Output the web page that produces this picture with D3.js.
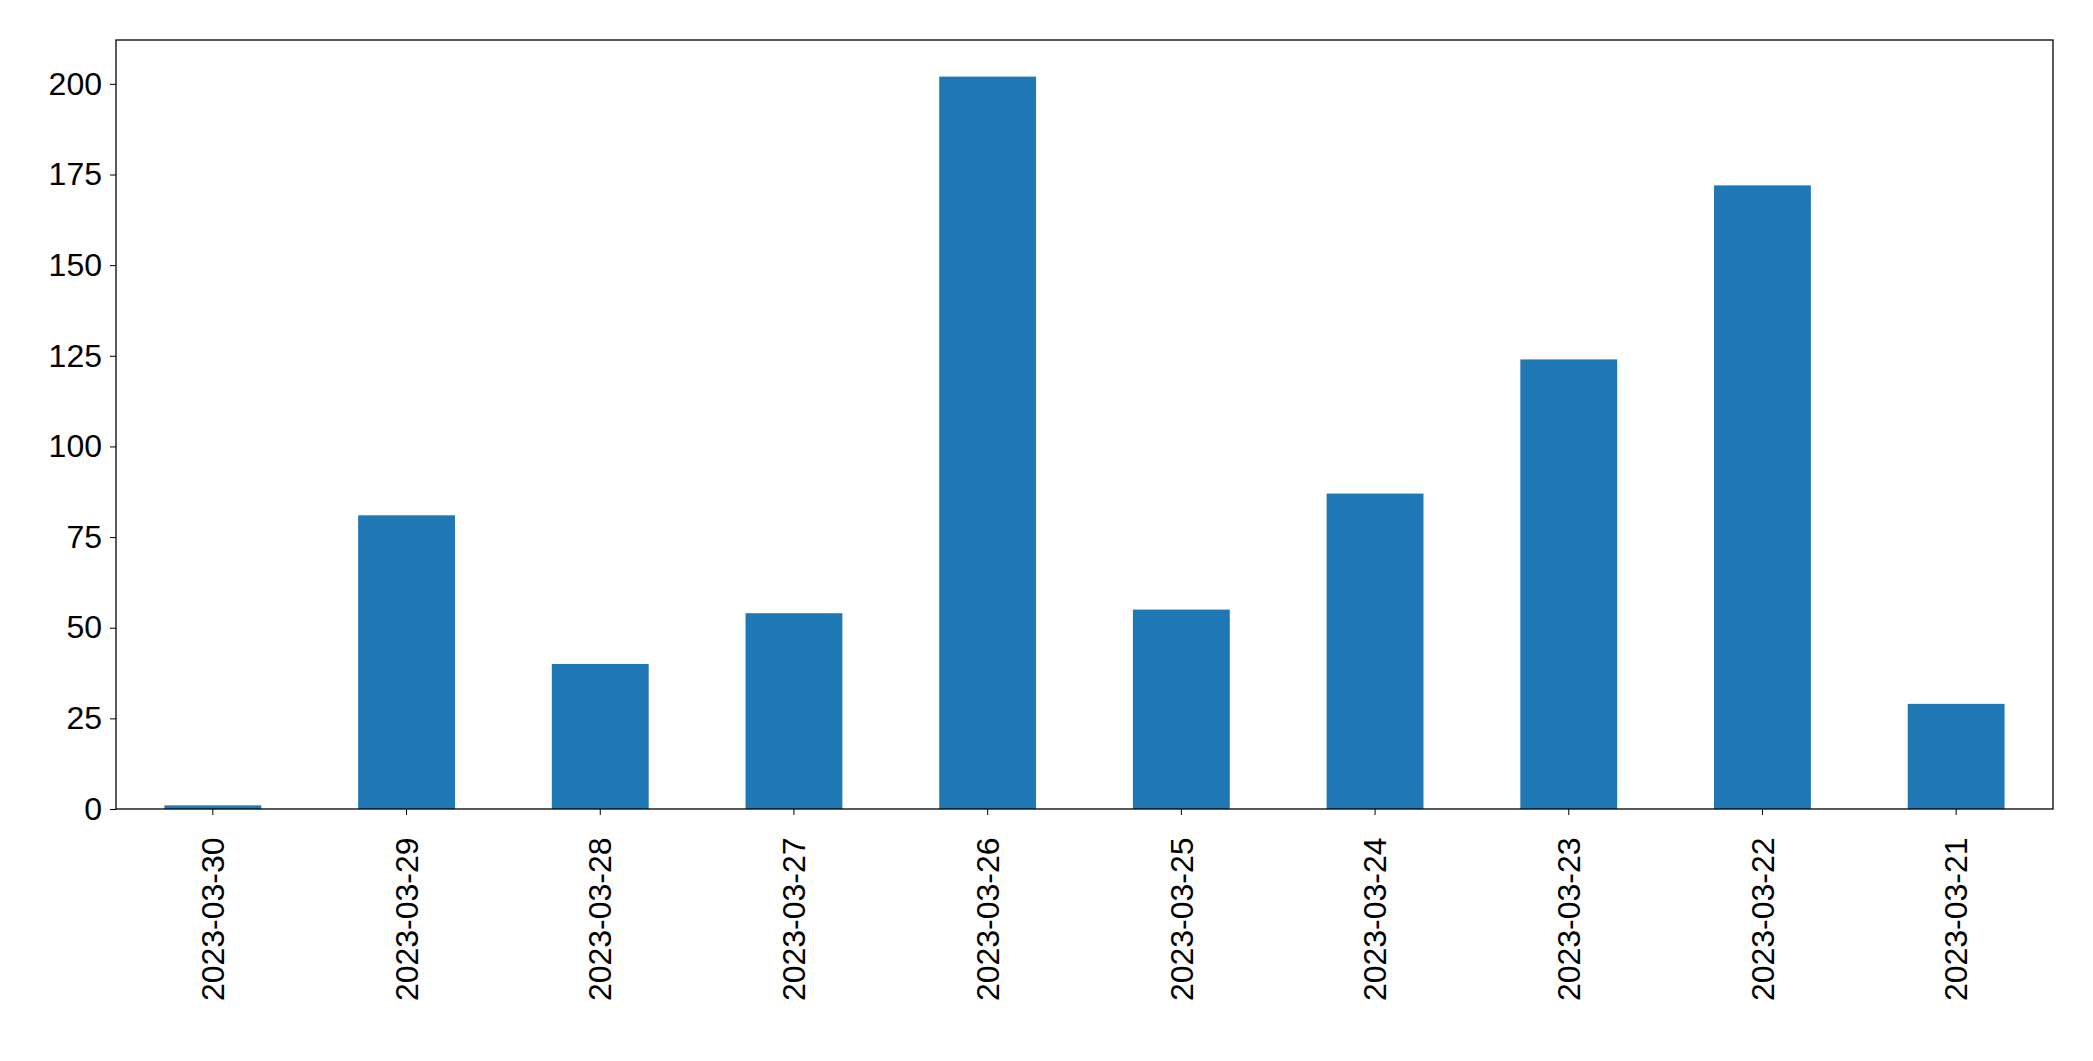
<!DOCTYPE html>
<html>
<head>
<meta charset="utf-8">
<script src="https://cdn.jsdelivr.net/npm/d3@7"></script>
<style>body{margin:0;background:#fff}</style>
</head>
<body>
<div id="chart"></div>
<script>
const dates = ["2023-03-30","2023-03-29","2023-03-28","2023-03-27","2023-03-26","2023-03-25","2023-03-24","2023-03-23","2023-03-22","2023-03-21"];
const counts = [1, 81, 40, 54, 202, 55, 87, 124, 172, 29];
const yTicks = [0, 25, 50, 75, 100, 125, 150, 175, 200];

const width = 2093, height = 1061;
const marginTop = 40, marginRight = 40, marginBottom = 252, marginLeft = 116;

const x = d3.scaleBand()
  .domain(dates)
  .range([marginLeft, width - marginRight])
  .paddingInner(0.5)
  .paddingOuter(0.25);

const y = d3.scaleLinear()
  .domain([0, 212.1])
  .range([height - marginBottom, marginTop]);

const svg = d3.select("#chart").append("svg")
  .attr("width", width)
  .attr("height", height)
  .style("font-family", "DejaVu Sans");

svg.append("g")
  .selectAll("rect")
  .data(counts)
  .join("rect")
  .attr("x", (d, i) => x(dates[i]))
  .attr("y", d => y(d))
  .attr("width", x.bandwidth())
  .attr("height", d => y(0) - y(d))
  .attr("fill", "#1f77b4");

// frame
svg.append("rect")
  .attr("x", marginLeft)
  .attr("y", marginTop)
  .attr("width", width - marginRight - marginLeft)
  .attr("height", height - marginBottom - marginTop)
  .attr("fill", "none")
  .attr("stroke", "#000")
  .attr("stroke-width", 1.3);

const xAxis = svg.append("g")
  .attr("transform", `translate(0,${height - marginBottom})`)
  .call(d3.axisBottom(x).tickSize(6).tickSizeOuter(0).tickPadding(10));
xAxis.select(".domain").remove();
xAxis.selectAll("text")
  .style("font-size", "32px")
  .attr("fill", "#000")
  .attr("transform", "rotate(-90)")
  .attr("text-anchor", "end")
  .attr("dx", "-0.45em")
  .attr("dy", "0.35em")
  .attr("x", 0)
  .attr("y", 0);
xAxis.selectAll(".tick text").attr("transform", "translate(0,14) rotate(-90)");

const yAxis = svg.append("g")
  .attr("transform", `translate(${marginLeft},0)`)
  .call(d3.axisLeft(y).tickValues(yTicks).tickSize(6).tickPadding(8));
yAxis.select(".domain").remove();
yAxis.selectAll("text").style("font-size", "32px").attr("fill", "#000");
</script>
</body>
</html>
